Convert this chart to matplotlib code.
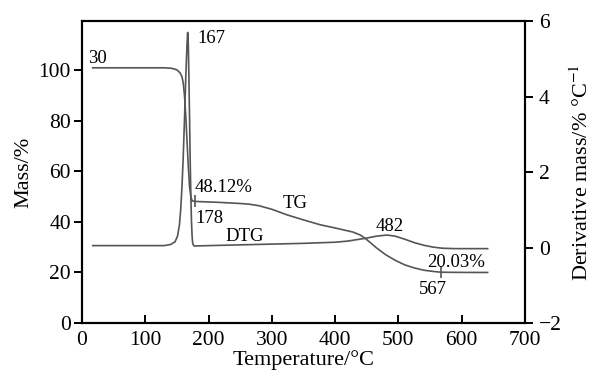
import matplotlib
matplotlib.use('Agg')
import matplotlib.pyplot as plt

plt.rcParams['font.family'] = ['Liberation Serif', 'DejaVu Serif']
plt.rcParams['mathtext.fontset'] = 'stix'

# TG curve (mass %, left axis)
tg_temp = [17, 100, 130, 142, 150, 155, 158, 160, 162, 164, 166, 168, 170, 172, 174,
           178, 200, 220, 250, 265, 280, 300, 324, 350, 376, 400, 428, 440, 450, 465,
           480, 495, 510, 525, 540, 555, 567, 590, 620, 641]
tg_mass = [101, 101, 101, 100.8, 100.2, 99, 97.5, 95, 90, 82, 72, 62, 54, 50, 48.4,
           48.12, 47.9, 47.7, 47.3, 47.0, 46.4, 45.0, 42.8, 40.8, 38.9, 37.6, 36, 34.8, 33,
           29.8, 27, 24.8, 23, 21.8, 20.9, 20.4, 20.1, 20.03, 20, 20]

# DTG curve (derivative mass, right axis)
dtg_temp = [17, 130, 140, 147, 151, 154, 156, 158, 160, 162, 164, 166, 167, 168,
            169, 170, 171, 172, 173, 174, 175, 177, 200, 250, 300, 350, 400, 420,
            435, 450, 465, 482, 495, 510, 525, 540, 555, 570, 590, 620, 641]
dtg_val = [0.05, 0.05, 0.08, 0.15, 0.3, 0.6, 1.0, 1.6, 2.4, 3.4, 4.5, 5.4, 5.7, 5.4,
           4.5, 3.4, 2.3, 1.4, 0.7, 0.3, 0.1, 0.04, 0.05, 0.07, 0.09, 0.11, 0.14, 0.17,
           0.21, 0.25, 0.3, 0.33, 0.3, 0.22, 0.13, 0.06, 0.01, -0.02, -0.03, -0.03, -0.03]

# annotations: (text, x, y, align) in left-axis data units
labels = [('30', 24.5, 104.7, 'center'), ('167', 183, 112.6, 'left'),
          ('48.12%', 178.5, 53.8, 'left'), ('178', 180, 41.5, 'left'),
          ('TG', 336.5, 47.4, 'center'), ('DTG', 257.5, 34.4, 'center'),
          ('482', 486.6, 38.3, 'center'), ('20.03%', 591, 24.1, 'center'),
          ('567', 554.5, 13.4, 'center')]
tick_marks_x = [178, 567]
tick_marks_y = [48.12, 20.1]

line_color = '#555555'

fig = plt.figure(figsize=(6.01, 3.83), dpi=100)
ax = fig.add_axes([0.1364, 0.1567, 0.7371, 0.7883])
ax2 = ax.twinx()

ax.plot(tg_temp, tg_mass, color=line_color, lw=1.2)
ax.plot(tick_marks_x, tick_marks_y, ls='none', marker='|', ms=9,
        mew=1.2, color=line_color)
ax2.plot(dtg_temp, dtg_val, color=line_color, lw=1.2)

for txt, x, y, ha in labels:
    ax.text(x, y, txt, ha=ha, va='center', fontsize=13.5)

ax.set_xlim(0, 700)
ax.set_ylim(0, 119.5)
ax2.set_ylim(-2, 6)
ax.set_xticks(range(0, 701, 100))
ax.set_yticks(range(0, 101, 20))
ax2.set_yticks([-2, 0, 2, 4, 6])

for a in (ax, ax2):
    for s in a.spines.values():
        s.set_linewidth(1.5)
ax.tick_params(axis='x', direction='in', length=6, width=1.4, labelsize=15.5, pad=6)
ax.tick_params(axis='y', direction='out', length=6, width=1.4, labelsize=15.5, pad=2)
ax2.tick_params(axis='y', direction='out', length=6, width=1.4, labelsize=15.5, pad=4)

ax.set_xlabel('Temperature/°C', fontsize=16, labelpad=0)
ax.set_ylabel('Mass/%', fontsize=16, labelpad=4)
ax2.set_ylabel('Derivative mass/% °C$^{-1}$', fontsize=16, labelpad=6)

fig.savefig('out.png', dpi=100)
